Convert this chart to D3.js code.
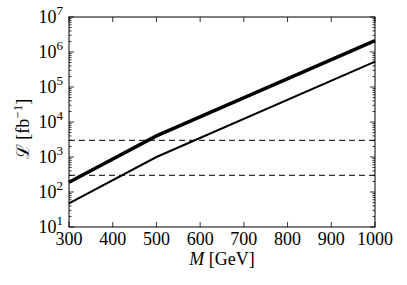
<!DOCTYPE html>
<html>
<head>
<meta charset="utf-8">
<script src="https://cdn.jsdelivr.net/npm/d3@7"></script>
<style>
  body { margin: 0; background: #fff; }
  text { font-family: "Liberation Serif", "DejaVu Serif", serif; fill: #000; }
</style>
</head>
<body>
<div id="chart"></div>
<script>
// data
const massThick = [300, 500, 1000];
const lumiThick = [190, 4000, 2.1e6];
const massThin = [300, 500, 1000];
const lumiThin = [47, 1000, 5.3e5];
const dashedLevels = [3000, 300];
const xTicks = [300, 400, 500, 600, 700, 800, 900, 1000];
const yExponents = [1, 2, 3, 4, 5, 6, 7];

const W = 407, H = 285;
const margin = { top: 17, right: 32, bottom: 58, left: 69 };
const width = W - margin.left - margin.right;
const height = H - margin.top - margin.bottom;

const svg = d3.select('#chart').append('svg')
  .attr('width', W).attr('height', H);
const g = svg.append('g')
  .attr('transform', `translate(${margin.left},${margin.top})`);

const x = d3.scaleLinear().domain([300, 1000]).range([0, width]);
const y = d3.scaleLog().domain([10, 1e7]).range([height, 0]);

// minor ticks on log axis
const minor = [];
for (let e = 1; e < 7; e++) for (let k = 2; k <= 9; k++) minor.push(k * Math.pow(10, e));

// ticks (inward) on all four sides
const tk = g.append('g').attr('stroke', '#000').attr('stroke-width', 0.8);
xTicks.forEach(v => {
  tk.append('line').attr('x1', x(v)).attr('x2', x(v)).attr('y1', height).attr('y2', height - 5);
  tk.append('line').attr('x1', x(v)).attr('x2', x(v)).attr('y1', 0).attr('y2', 5);
});
yExponents.forEach(e => {
  const v = Math.pow(10, e);
  tk.append('line').attr('x1', 0).attr('x2', 5).attr('y1', y(v)).attr('y2', y(v));
  tk.append('line').attr('x1', width).attr('x2', width - 5).attr('y1', y(v)).attr('y2', y(v));
});
minor.forEach(v => {
  tk.append('line').attr('x1', 0).attr('x2', 2.5).attr('y1', y(v)).attr('y2', y(v));
  tk.append('line').attr('x1', width).attr('x2', width - 2.5).attr('y1', y(v)).attr('y2', y(v));
});

// dashed horizontal lines
dashedLevels.forEach(v => {
  g.append('line')
    .attr('x1', 0).attr('x2', width)
    .attr('y1', y(v)).attr('y2', y(v))
    .attr('stroke', '#000').attr('stroke-width', 1)
    .attr('stroke-dasharray', '6,4');
});

const line = d3.line().x(d => x(d[0])).y(d => y(d[1]));

g.append('path')
  .datum(d3.zip(massThin, lumiThin))
  .attr('fill', 'none').attr('stroke', '#000').attr('stroke-width', 2)
  .attr('d', line);

g.append('path')
  .datum(d3.zip(massThick, lumiThick))
  .attr('fill', 'none').attr('stroke', '#000').attr('stroke-width', 3.5)
  .attr('d', line);

// frame
g.append('rect')
  .attr('width', width).attr('height', height)
  .attr('fill', 'none').attr('stroke', '#000').attr('stroke-width', 1);

// x tick labels
g.selectAll('.xl').data(xTicks).enter().append('text')
  .attr('x', d => x(d)).attr('y', height + 18)
  .attr('text-anchor', 'middle').style('font-size', '18px')
  .text(d => d);

// y tick labels 10^n
yExponents.forEach(e => {
  const t = g.append('text')
    .attr('x', -6).attr('y', y(Math.pow(10, e)) + 6)
    .attr('text-anchor', 'end').style('font-size', '18px');
  t.append('tspan').text('10');
  t.append('tspan').attr('dy', -8).style('font-size', '13px').text(e);
});

// axis labels
const xl = svg.append('text')
  .attr('x', margin.left + width / 2).attr('y', 265)
  .attr('text-anchor', 'middle').style('font-size', '18px');
xl.append('tspan').style('font-style', 'italic').text('M');
xl.append('tspan').text(' [GeV]');

const yl = svg.append('text')
  .attr('transform', `translate(29,129) rotate(-90)`)
  .attr('text-anchor', 'middle').style('font-size', '18px');
yl.append('tspan').text('\u2112 [fb');
yl.append('tspan').attr('dy', -7).style('font-size', '13px').text('\u22121');
yl.append('tspan').attr('dy', 7).text(']');
</script>
</body>
</html>
